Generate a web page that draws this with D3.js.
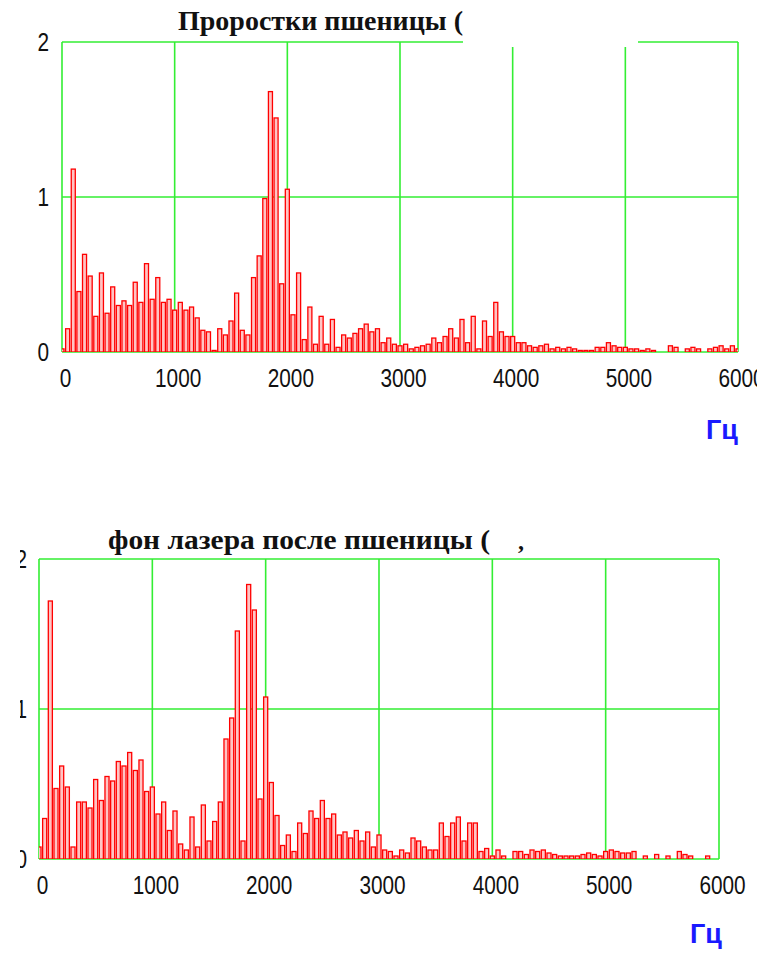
<!DOCTYPE html>
<html>
<head>
<meta charset="utf-8">
<script src="https://cdn.jsdelivr.net/npm/d3@7"></script>
<style>
  body { margin: 0; background: #fff; }
  svg { display: block; }
</style>
</head>
<body>
<script>
// spectrum bars, one every 50 Hz starting at 0 Hz
var binHz = 50;

var topTitle = "Проростки пшеницы (";
var bottomTitle = "фон лазера после пшеницы (";
var unitLabel = "Гц";

var xTicks = [0, 1000, 2000, 3000, 4000, 5000, 6000];
var yTicks = [0, 1, 2];

var topValues = [
  0.02, 0.15, 1.18, 0.39, 0.63, 0.49, 0.23, 0.51, 0.25, 0.42,
  0.30, 0.33, 0.30, 0.45, 0.32, 0.57, 0.34, 0.48, 0.32, 0.34,
  0.27, 0.32, 0.27, 0.29, 0.22, 0.14, 0.13, 0.01, 0.15, 0.11,
  0.20, 0.38, 0.14, 0.11, 0.48, 0.62, 0.99, 1.68, 1.51, 0.44,
  1.05, 0.24, 0.51, 0.08, 0.29, 0.05, 0.23, 0.05, 0.21, 0.03,
  0.11, 0.09, 0.12, 0.15, 0.18, 0.13, 0.15, 0.06, 0.09, 0.05,
  0.04, 0.05, 0.02, 0.03, 0.04, 0.05, 0.09, 0.06, 0.10, 0.15,
  0.09, 0.21, 0.06, 0.23, 0.02, 0.20, 0.10, 0.32, 0.13, 0.10,
  0.10, 0.06, 0.06, 0.04, 0.03, 0.04, 0.05, 0.02, 0.03, 0.02,
  0.03, 0.02, 0.01, 0.01, 0.01, 0.03, 0.03, 0.06, 0.04, 0.03,
  0.03, 0.02, 0.02, 0.01, 0.02, 0.01, 0.00, 0.00, 0.04, 0.03,
  0.00, 0.02, 0.03, 0.02, 0.00, 0.02, 0.03, 0.04, 0.02, 0.04,
  0.02
];

var bottomValues = [
  0.08, 0.27, 1.72, 0.47, 0.62, 0.48, 0.08, 0.38, 0.38, 0.34,
  0.53, 0.39, 0.55, 0.52, 0.65, 0.62, 0.71, 0.59, 0.66, 0.45,
  0.48, 0.30, 0.38, 0.19, 0.32, 0.10, 0.06, 0.28, 0.08, 0.36,
  0.12, 0.25, 0.38, 0.80, 0.94, 1.52, 0.12, 1.83, 1.66, 0.40,
  1.08, 0.51, 0.29, 0.09, 0.16, 0.05, 0.24, 0.17, 0.32, 0.27,
  0.39, 0.27, 0.30, 0.16, 0.18, 0.14, 0.19, 0.12, 0.18, 0.08,
  0.16, 0.06, 0.05, 0.02, 0.06, 0.04, 0.14, 0.12, 0.08, 0.06,
  0.06, 0.24, 0.15, 0.24, 0.28, 0.12, 0.24, 0.24, 0.05, 0.07,
  0.02, 0.06, 0.02, 0.00, 0.05, 0.05, 0.03, 0.06, 0.05, 0.06,
  0.04, 0.03, 0.02, 0.02, 0.02, 0.02, 0.03, 0.04, 0.03, 0.02,
  0.05, 0.06, 0.05, 0.04, 0.04, 0.05, 0.00, 0.02, 0.00, 0.03,
  0.00, 0.02, 0.00, 0.05, 0.03, 0.02, 0.00, 0.00, 0.02, 0.00,
  0.00
];

var green = "#33ee33",
    red = "#ff0000",
    narrow = "'Liberation Sans Narrow', 'Liberation Sans', Arial, sans-serif";

var svg = d3.select("body").append("svg")
    .attr("width", 784)
    .attr("height", 958);

svg.append("rect").attr("width", 784).attr("height", 958).attr("fill", "#fff");

function drawPanel(p, id) {
  var x = d3.scaleLinear().domain([0, 6000]).range([p.left, p.right]);
  var y = d3.scaleLinear().domain([0, 2]).range([p.bottom, p.top]);

  var g = svg.append("g");

  g.append("clipPath").attr("id", id)
    .append("rect")
    .attr("x", p.left).attr("y", p.top)
    .attr("width", p.right - p.left).attr("height", p.bottom - p.top);

  // grid
  g.selectAll(".vgrid").data(xTicks).enter().append("line")
    .attr("x1", function(d) { return x(d); })
    .attr("x2", function(d) { return x(d); })
    .attr("y1", y(2)).attr("y2", y(0))
    .attr("stroke", green).attr("stroke-width", 1.6);
  g.selectAll(".hgrid").data(yTicks).enter().append("line")
    .attr("x1", x(0)).attr("x2", x(6000))
    .attr("y1", function(d) { return y(d); })
    .attr("y2", function(d) { return y(d); })
    .attr("stroke", green).attr("stroke-width", 1.6);

  // bars
  var w = x(binHz) - x(0);
  g.append("g").attr("clip-path", "url(#" + id + ")")
    .selectAll("rect").data(p.values).enter().append("rect")
    .attr("x", function(d, i) { return x(i * binHz) - w / 2 + 0.8; })
    .attr("width", w - 1.6)
    .attr("y", function(d) { return y(d); })
    .attr("height", function(d) { return y(0) - y(d); })
    .attr("fill", "#ffc4c4")
    .attr("stroke", red)
    .attr("stroke-width", 1.3);

  // axes (labels only)
  var xAxis = g.append("g")
    .attr("transform", "translate(3," + (p.bottom + 14) + ")")
    .call(d3.axisBottom(x).tickValues(xTicks).tickSize(0).tickFormat(d3.format("d")));
  var yAxis = g.append("g")
    .attr("transform", "translate(" + p.yLabelX + ",0)")
    .call(d3.axisLeft(y).tickValues(yTicks).tickSize(0).tickFormat(d3.format("d")));
  if (p.yClip) {
    g.append("clipPath").attr("id", id + "y")
      .append("rect").attr("x", p.yClip - p.yLabelX).attr("y", 0).attr("width", 200).attr("height", 958);
    yAxis.attr("clip-path", "url(#" + id + "y)");
  }
  [xAxis, yAxis].forEach(function(a) {
    a.select(".domain").remove();
    a.selectAll("text")
      .attr("font-family", narrow)
      .attr("font-size", 26)
      .attr("transform", "scale(0.8,1)")
      .attr("fill", "#111");
  });
  yAxis.selectAll("text").attr("x", 0);

  // title
  g.append("text")
    .attr("x", p.titleX).attr("y", p.titleY)
    .attr("font-family", "'Liberation Serif', 'Times New Roman', serif")
    .attr("font-weight", "bold")
    .attr("font-size", 28)
    .attr("textLength", p.titleW)
    .attr("lengthAdjust", "spacingAndGlyphs")
    .attr("fill", "#111")
    .text(p.title);

  // unit
  g.append("text")
    .attr("x", p.unitX).attr("y", p.unitY)
    .attr("font-family", narrow)
    .attr("font-weight", "bold")
    .attr("font-size", 27)
    .attr("fill", "#1a1aff")
    .text(unitLabel);

  return g;
}

drawPanel({
  left: 62, right: 738, top: 42, bottom: 352,
  values: topValues, title: topTitle,
  titleX: 178, titleY: 30, titleW: 285,
  yLabelX: 49, unitX: 706, unitY: 439
}, "clipTop");

// white patch over the top frame behind the title, as in the scan
svg.append("rect").attr("x", 463).attr("y", 0).attr("width", 175).attr("height", 47).attr("fill", "#fff");
svg.append("rect").attr("x", 757).attr("y", 360).attr("width", 27).attr("height", 45).attr("fill", "#fff");

drawPanel({
  left: 39, right: 719, top: 559, bottom: 859,
  values: bottomValues, title: bottomTitle,
  titleX: 108, titleY: 549, titleW: 382,
  yLabelX: 27, yClip: 20, unitX: 690, unitY: 943
}, "clipBottom");

svg.append("text")
  .attr("x", 518).attr("y", 549)
  .attr("font-family", "'Liberation Serif', serif")
  .attr("font-weight", "bold")
  .attr("font-size", 24)
  .attr("fill", "#111")
  .text(",");
</script>
</body>
</html>
